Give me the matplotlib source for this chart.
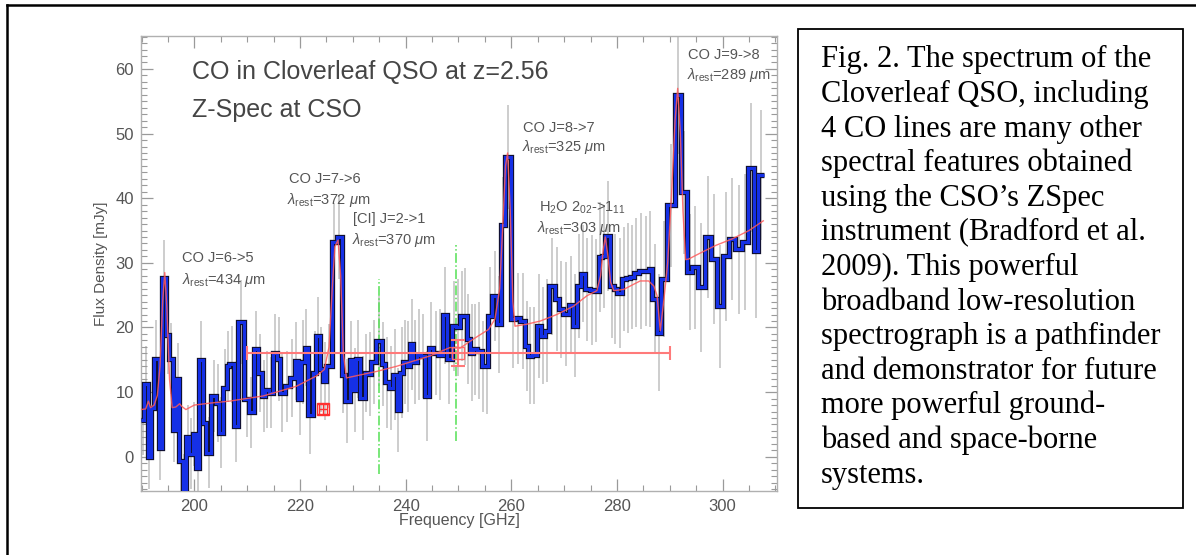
import matplotlib
matplotlib.use("Agg")
import matplotlib.pyplot as plt
from matplotlib.lines import Line2D
from matplotlib.patches import Rectangle
from matplotlib.ticker import MultipleLocator
import numpy as np

plt.rcParams['font.family'] = ['Liberation Sans', 'DejaVu Sans']
plt.rcParams['mathtext.fontset'] = 'custom'
plt.rcParams['mathtext.rm'] = 'Liberation Sans'
plt.rcParams['mathtext.it'] = 'Liberation Sans:italic'

# ---------------- data ----------------
bin_edges_ghz = [
    189.9, 190.51, 191.14, 191.78, 192.41, 193.23, 193.87, 194.63, 195.26, 195.88,
    196.53, 197.15, 197.78, 198.43, 199.05, 199.68, 200.32, 200.95, 201.57, 202.28,
    203.17, 204.12, 204.74, 205.50, 206.13, 206.64, 207.59, 208.22, 209.49, 210.30,
    211.25, 212.14, 212.77, 213.42, 214.04, 214.86, 215.62, 216.26, 217.08, 218.03,
    218.98, 219.60, 220.25, 220.87, 221.50, 222.45, 223.09, 223.72, 224.35, 224.99,
    226.00, 226.95, 227.89, 228.46, 229.41, 230.04, 230.68, 231.44, 232.26, 232.88,
    233.53, 234.35, 235.43, 236.05, 236.87, 237.63, 238.27, 238.90, 239.53, 240.17,
    240.80, 241.42, 242.07, 242.83, 243.64, 244.40, 245.22, 246.10, 247.00, 247.87,
    248.71, 249.53, 250.28, 250.92, 251.56, 252.18, 252.81, 253.45, 254.40, 255.02,
    255.65, 256.41, 257.25, 258.06, 258.82, 259.96, 260.72, 261.67, 262.62, 263.24,
    263.89, 264.84, 265.65, 266.41, 267.17, 268.31, 269.07, 269.83, 270.83, 271.67,
    272.49, 273.24, 274.00, 274.82, 275.58, 276.53, 277.17, 277.80, 278.75, 279.37,
    280.02, 280.97, 281.78, 282.54, 283.17, 284.12, 285.07, 286.02, 286.66, 287.61,
    288.43, 289.56, 290.95, 292.22, 293.30, 294.25, 295.31, 296.64, 297.72, 298.99,
    300.06, 301.20, 302.33, 303.74, 304.88, 305.93, 306.77, 307.78]

flux_mjy = [
    5.7, 11.2, 0.0, 7.6, 15.1, 1.4, 27.6, 18.8, 15.2, 4.2,
    12.1, -0.7, -5.5, 3.0, 0.5, 3.5, -1.8, 15.0, 5.2, 0.6,
    9.4, 8.3, 3.7, 10.7, 14.0, 14.3, 4.7, 20.8, 9.0, 6.9,
    16.6, 13.0, 9.4, 10.4, 9.9, 16.1, 15.1, 9.9, 10.9, 12.2,
    14.8, 8.9, 14.6, 16.9, 6.5, 13.0, 18.7, 13.5, 11.7, 14.0,
    33.3, 34.0, 12.7, 8.6, 15.0, 10.4, 15.1, 9.1, 13.0, 12.8,
    14.6, 17.9, 14.3, 11.5, 10.7, 12.7, 7.3, 13.0, 14.6, 14.0,
    17.4, 14.6, 15.8, 15.6, 9.4, 16.9, 16.0, 15.8, 21.9, 15.1,
    20.2, 20.0, 21.8, 21.7, 18.2, 16.1, 16.6, 16.4, 14.0, 14.1,
    21.8, 24.9, 20.5, 35.8, 46.4, 21.3, 21.4, 21.0, 17.1, 15.6,
    15.7, 20.2, 18.7, 19.5, 26.4, 24.4, 22.8, 22.1, 23.5, 20.3,
    26.4, 28.3, 25.9, 25.8, 25.7, 30.9, 31.0, 34.2, 26.4, 25.9,
    25.4, 27.5, 27.6, 27.8, 28.5, 28.7, 28.8, 29.0, 24.4, 19.2,
    27.5, 38.9, 55.9, 40.9, 28.6, 29.3, 26.2, 34.0, 30.6, 23.3,
    31.0, 33.7, 32.1, 33.2, 44.7, 31.9, 43.6]

flux_err = [
    5.5, 6, 5, 5.5, 6, 5, 6, 6, 5.5, 5, 5.5, 5, 6, 5, 5.5, 5, 5.5, 6, 5, 5.5,
    5.5, 6, 5.5, 6, 5.5, 6, 5.5, 6.5, 6, 5.5, 6, 6, 5.5, 6, 5.5, 6, 6.5, 6, 5.5, 6,
    6, 5.5, 6.5, 6, 6, 6.5, 6, 6.5, 6, 6.5, 6, 6.5, 6, 6.5, 6, 6.5, 6, 6.5, 6, 6.5,
    6.5, 7, 6.5, 7, 6.5, 7, 6.5, 7, 6.5, 7, 7, 6.5, 7, 6.5, 7, 7, 6.5, 7, 7.5, 7,
    7, 7.5, 7, 7.5, 7, 7.5, 7, 7.5, 7, 7.5, 7.5, 7, 7.5, 7.5, 8, 7.5, 7, 7.5, 7, 7.5,
    7.5, 8, 7.5, 8, 7.5, 8, 7.5, 8, 7.5, 8, 8, 7.5, 8, 8.5, 8, 8.5, 8, 8.5, 8, 8.5,
    8.5, 8, 8.5, 8, 8.5, 9, 8.5, 9, 8.5, 9, 9, 9.5, 9, 9.5, 9, 9.5, 10, 9.5, 10, 9.5,
    10, 9.5, 10, 10.5, 10, 10.5, 10]

model_ghz = [189.9, 190.8, 191.3, 191.7, 192.4, 193.0, 193.5, 194.0, 194.4, 194.8,
             195.3, 195.8, 196.5, 197.2, 197.6, 198.4, 200.0, 203.0, 206.6, 213.0,
             219.3, 223.1, 224.6, 225.5, 226.1, 226.6, 227.2, 227.7, 228.2, 228.8,
             234.5, 238.3, 244.6, 248.4, 250.3, 252.8, 255.7, 256.9, 257.8, 258.4,
             258.9, 259.3, 259.8, 260.3, 260.7, 262.9, 265.5, 268.6, 271.8, 274.3,
             276.2, 276.9, 277.4, 277.8, 278.3, 278.8, 279.4, 281.3, 283.2, 284.4,
             286.0, 287.0, 287.6, 288.2, 288.9, 289.6, 290.3, 291.0, 291.5, 292.0,
             292.5, 293.0, 293.6, 295.5, 298.7, 301.8, 305.0, 307.7]
model_mjy = [7.3, 7.4, 8.6, 7.6, 8.0, 9.5, 14.0, 24.0, 28.5, 23.0,
             12.0, 7.6, 7.7, 8.2, 7.8, 7.3, 8.0, 8.3, 8.6, 9.4,
             10.9, 12.5, 13.5, 17.0, 26.0, 32.5, 33.5, 28.0, 16.0, 12.2,
             13.2, 14.0, 15.6, 16.9, 16.8, 18.2, 19.7, 21.3, 26.0, 36.0,
             45.0, 47.0, 38.0, 24.0, 20.2, 20.5, 21.0, 22.0, 23.3, 24.9,
             25.7, 28.0, 32.0, 34.0, 31.0, 27.0, 25.7, 25.9, 26.7, 27.2,
             27.2, 26.4, 24.9, 19.5, 24.4, 30.0, 40.0, 52.0, 57.0, 50.0,
             38.0, 30.5, 30.6, 31.4, 32.7, 33.7, 35.0, 36.5]

# band-averaged points with errors
band_ghz = [250.0, 224.4]
band_mjy = [16.0, 7.4]
band_xerr = [40.0, 0.8]
band_yerr = [2.0, 0.8]

# green dash-dot markers
marker_ghz = [235.0, 249.5]
marker_lo = [-2.6, 2.4]
marker_hi = [27.5, 32.7]

caption_lines = [
    "Fig. 2. The spectrum of the",
    "Cloverleaf QSO, including",
    "4 CO lines are many other",
    "spectral features obtained",
    "using the CSO\u2019s ZSpec",
    "instrument (Bradford et al.",
    "2009). This powerful",
    "broadband low-resolution",
    "spectrograph is a pathfinder",
    "and demonstrator for future",
    "more powerful ground-",
    "based and space-borne",
    "systems.",
]

# ---------------- figure ----------------
W, H = 1196, 555
fig = plt.figure(figsize=(W / 100, H / 100), dpi=100)
fig.patch.set_facecolor('white')

ax = fig.add_axes([141 / W, 1 - 491 / H, (777 - 141) / W, (491 - 36) / H])

edges = np.array(bin_edges_ghz)
vals = np.array(flux_mjy)
centers = 0.5 * (edges[:-1] + edges[1:])

ax.errorbar(centers, vals, yerr=flux_err, fmt='none', ecolor='#c9c9c9',
            elinewidth=1.3, zorder=1)
ax.stairs(vals, edges, color='#101030', lw=3.8, zorder=3, baseline=None)
ax.stairs(vals, edges, color='#1530e6', lw=2.2, zorder=4, baseline=None)
ax.plot(model_ghz, model_mjy, color='#ff5a5a', lw=1.0, alpha=0.85, zorder=5)

ax.vlines(marker_ghz, marker_lo, marker_hi, colors='#55e055', linestyles='-.',
          lw=1.1, zorder=2)

ax.errorbar(band_ghz[0], band_mjy[0], xerr=band_xerr[0], yerr=band_yerr[0],
            fmt='s', mfc='none', mec='#ff6a6a', ms=8, ecolor='#ff7a7a',
            elinewidth=1.5, capsize=5, capthick=1.5, zorder=6)
ax.errorbar(band_ghz[1], band_mjy[1], xerr=band_xerr[1], yerr=band_yerr[1],
            fmt='s', mfc='none', mec='#ff3030', ms=8, ecolor='#ff3030',
            elinewidth=1.0, capsize=4, capthick=1.0, zorder=6)

ax.set_xlim(189.9, 310.3)
ax.set_ylim(-5.3, 65.1)
ax.xaxis.set_major_locator(MultipleLocator(20))
ax.xaxis.set_minor_locator(MultipleLocator(5))
ax.yaxis.set_major_locator(MultipleLocator(10))
ax.yaxis.set_minor_locator(MultipleLocator(1))
ax.tick_params(which='both', direction='in', top=True, right=True,
               colors='#9a9a9a', labelcolor='#555555', labelsize=12)
ax.tick_params(which='major', length=8.5, width=0.9)
ax.tick_params(which='minor', length=4.5, width=0.8)
ax.tick_params(axis='x', pad=6)
ax.tick_params(axis='y', pad=5)
for s in ax.spines.values():
    s.set_color('#b0b0b0')
    s.set_linewidth(1.0)

tc = '#555555'
ax.text(199.6, 59.6, 'CO in Cloverleaf QSO at z=2.56', fontsize=18, color='#454545',
        va='center', ha='left')
ax.text(199.6, 53.6, 'Z-Spec at CSO', fontsize=18, color='#454545',
        va='center', ha='left')

labels = [
    (197.7, 30.75, 'CO J=6->5'),
    (197.6, 27.3, r'$\lambda_{\rm rest}$=434 $\mu$m'),
    (218.0, 42.9, 'CO J=7->6'),
    (217.6, 39.8, r'$\lambda_{\rm rest}$=372 $\mu$m'),
    (230.0, 36.8, '[CI] J=2->1'),
    (229.9, 33.6, r'$\lambda_{\rm rest}$=370 $\mu$m'),
    (262.2, 50.9, 'CO J=8->7'),
    (262.0, 48.0, r'$\lambda_{\rm rest}$=325 $\mu$m'),
    (265.2, 38.5, r'H$_2$O 2$_{02}$->1$_{11}$'),
    (264.9, 35.4, r'$\lambda_{\rm rest}$=303 $\mu$m'),
    (293.4, 62.1, 'CO J=9->8'),
    (293.2, 59.1, r'$\lambda_{\rm rest}$=289 $\mu$m'),
]
for x, y, t in labels:
    ax.text(x, y, t, fontsize=10.5, color=tc, va='center', ha='left', zorder=7)

fig.text(101 / W, 1 - 263.5 / H, 'Flux Density [mJy]', rotation=90, fontsize=11,
         color=tc, ha='center', va='center')
fig.text(459 / W, 1 - 520 / H, 'Frequency [GHz]', fontsize=11.5, color=tc,
         ha='center', va='center')

# outer frame (slide border)
fig.add_artist(Line2D([7 / W, 7 / W], [0, 1 - 5 / H], color='black', lw=1.8,
                      transform=fig.transFigure))
fig.add_artist(Line2D([7 / W, 1], [1 - 5 / H, 1 - 5 / H], color='black', lw=1.8,
                      transform=fig.transFigure))

# caption box
fig.add_artist(Rectangle((798.3 / W, 1 - 508.3 / H), (1182.7 - 798.3) / W,
                         (508.3 - 29.3) / H, fill=False, edgecolor='black', lw=1.3,
                         transform=fig.transFigure))
for i, line in enumerate(caption_lines):
    fig.text(820.7 / W, 1 - (67.3 + 34.6 * i) / H, line,
             family=['Liberation Serif', 'DejaVu Serif'], fontsize=22,
             color='black', ha='left', va='baseline')

fig.savefig('out.png', dpi=100, facecolor='white')
